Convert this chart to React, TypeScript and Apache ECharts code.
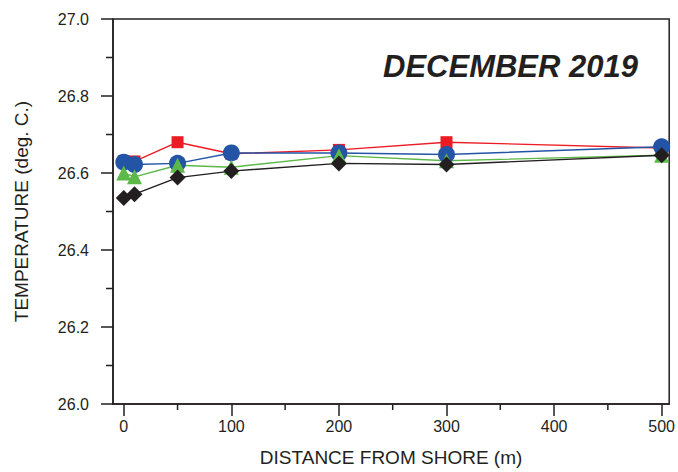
import React, { useEffect, useRef } from "react";
import * as echarts from "echarts";

// Distance from shore (m) of each sampling station
const distances = [0, 10, 50, 100, 200, 300, 500];

// Temperatures (deg. C) at each station, one array per transect
const redSeries = [26.63, 26.63, 26.68, 26.65, 26.66, 26.68, 26.665];
const blueSeries = [26.628, 26.622, 26.625, 26.652, 26.652, 26.648, 26.668];
const greenSeries = [26.6, 26.59, 26.62, 26.615, 26.645, 26.632, 26.646];
const blackSeries = [26.535, 26.545, 26.588, 26.605, 26.625, 26.622, 26.646];

const xMajorTicks = [0, 100, 200, 300, 400, 500];
const xMinorTicks = [50, 150, 250, 350, 450];
const yMinorTicks = [26.1, 26.3, 26.5, 26.7, 26.9];

const X_MIN = -10;
const X_MAX = 507;
const Y_MIN = 26.0;
const Y_MAX = 27.0;

const INK = "#231f20";
const FONT = "'Liberation Sans', Arial, sans-serif";

const pairs = (ys: number[]) => distances.map((d, i) => [d, ys[i]]);

export default function App() {
  const ref = useRef<HTMLDivElement>(null);

  useEffect(() => {
    if (!ref.current) return;
    const chart = echarts.init(ref.current, null, { renderer: "svg" });

    const line = (
      name: string,
      data: number[],
      color: string,
      symbol: string,
      symbolSize: number
    ) => ({
      name,
      type: "line",
      data: pairs(data),
      symbol,
      symbolSize,
      showAllSymbol: true,
      z: 3,
      lineStyle: { color, width: 1.4 },
      itemStyle: { color, borderWidth: 0 },
    });

    // short outward tick at an axis position, dx/dy give its direction
    const minorTicks = (data: number[][], dx: number, dy: number) => ({
      type: "custom",
      silent: true,
      clip: false,
      z: 1,
      data,
      renderItem: (_params: any, api: any) => {
        const p = api.coord([api.value(0), api.value(1)]);
        return {
          type: "line",
          shape: { x1: p[0], y1: p[1], x2: p[0] + dx, y2: p[1] + dy },
          style: { stroke: INK, lineWidth: 1.5 },
        };
      },
    });

    chart.setOption({
      animation: false,
      backgroundColor: "#ffffff",
      grid: {
        left: 113,
        right: 7,
        top: 19,
        bottom: 68,
        show: true,
        borderColor: INK,
        borderWidth: 1.5,
      },
      xAxis: {
        type: "value",
        min: X_MIN,
        max: X_MAX,
        position: "bottom",
        name: "DISTANCE FROM SHORE (m)",
        nameLocation: "middle",
        nameGap: 44,
        nameTextStyle: { color: INK, fontSize: 19, fontFamily: FONT },
        axisLine: { show: true, onZero: false, lineStyle: { color: INK, width: 1.5 } },
        axisTick: {
          show: true,
          inside: false,
          length: 12,
          customValues: xMajorTicks,
          lineStyle: { color: INK, width: 1.5 },
        },
        axisLabel: {
          show: true,
          customValues: xMajorTicks,
          margin: 14,
          color: INK,
          fontSize: 16,
          fontFamily: FONT,
        },
        splitLine: { show: false },
      },
      yAxis: {
        type: "value",
        min: Y_MIN,
        max: Y_MAX,
        interval: 0.2,
        name: "TEMPERATURE (deg. C.)",
        nameLocation: "middle",
        nameGap: 82,
        nameTextStyle: { color: INK, fontSize: 19, fontFamily: FONT },
        axisLine: { show: true, onZero: false, lineStyle: { color: INK, width: 1.5 } },
        axisTick: { show: true, inside: false, length: 12, lineStyle: { color: INK, width: 1.5 } },
        axisLabel: {
          margin: 24,
          color: INK,
          fontSize: 16,
          fontFamily: FONT,
          formatter: (v: number) => v.toFixed(1),
        },
        splitLine: { show: false },
      },
      graphic: [
        {
          type: "text",
          x: 383,
          y: 66,
          style: {
            text: "DECEMBER 2019",
            font: `italic bold 31px ${FONT}`,
            fill: INK,
            textVerticalAlign: "middle",
          },
        },
      ],
      series: [
        minorTicks(xMinorTicks.map((v) => [v, Y_MIN]), 0, 6),
        minorTicks(yMinorTicks.map((v) => [X_MIN, v]), -7, 0),
        line("red", redSeries, "#ed1c24", "rect", 12),
        line("blue", blueSeries, "#2354a5", "circle", 17),
        line("green", greenSeries, "#5cb848", "triangle", 15),
        line("black", blackSeries, INK, "diamond", 16),
      ],
    });

    return () => chart.dispose();
  }, []);

  return (
    <div
      ref={ref}
      style={{ position: "fixed", left: 0, top: 0, width: 678, height: 472 }}
    />
  );
}
